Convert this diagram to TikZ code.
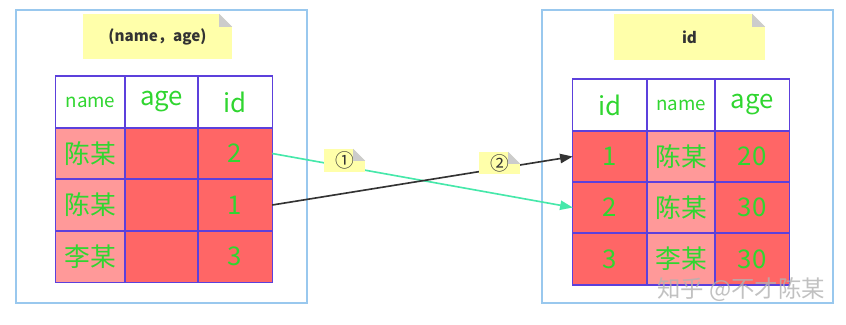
\documentclass[tikz,border=0pt]{standalone}
\usepackage{fontspec}
\setmainfont{Noto Sans CJK SC}
\usetikzlibrary{arrows.meta,calc}
\definecolor{CellRed}{RGB}{255,102,102}
\definecolor{CellPink}{RGB}{255,153,153}
\definecolor{CellGreen}{RGB}{48,214,48}
\definecolor{GridPurple}{RGB}{92,64,220}
\definecolor{FrameBlue}{RGB}{153,200,238}
\definecolor{NoteYellow}{RGB}{255,255,170}
\definecolor{FoldGray}{RGB}{204,204,204}
\definecolor{LinkGreen}{RGB}{70,232,170}
\colorlet{LinkDark}{black!80}
\colorlet{NoteText}{black!80}

% folded corner of a note node: #1 node name, #2 fold size
\newcommand\notefold[2]{%
  \fill[white] ($(#1.north east)+(-#2,0)$) -- (#1.north east) -- ($(#1.north east)+(0,#2)$) -- cycle;
  \fill[FoldGray] ($(#1.north east)+(-#2,0)$) -- ($(#1.north east)+(0,#2)$) -- ($(#1.north east)+(-#2,#2)$) -- cycle;}

\begin{document}
\begin{tikzpicture}[x=0.3mm,y=-0.3mm,
    groupbox/.style={draw=FrameBlue,line width=1.3pt,minimum width=87.3mm,minimum height=87.9mm},
    notebox/.style={fill=NoteYellow,inner sep=0pt,font=\bfseries\fontsize{13}{14}\selectfont,text=NoteText},
    cell/.style={inner sep=0pt,minimum height=15.45mm,
      text=CellGreen,font=\fontsize{22}{23}\selectfont},
    head/.style={cell,fill=white},
    redcell/.style={cell,fill=CellRed},
    pinkcell/.style={cell,fill=CellPink},
    gridline/.style={draw=GridPurple,line width=1.2pt},
    link/.style={line width=1.4pt,-{Triangle[length=3.8mm,width=2.8mm]}}
  ]
    \useasboundingbox (0,0) rectangle (846,324);

    % two index trees
    \node[groupbox] (leftgroup) at (161.5,156.5) {};
    \node[groupbox] (rightgroup) at (687.5,156.5) {};

    \node[notebox,minimum width=44.7mm,minimum height=13.5mm] (leftnote) at (157.5,36.5) {(name，age)};
    \notefold{leftnote}{13}
    \node[notebox,minimum width=45.3mm,minimum height=13.8mm] (rightnote) at (689.5,37) {id};
    \notefold{rightnote}{13}

    % secondary index (name, age)
    \node[head,minimum width=20.7mm,font=\fontsize{16}{17}\selectfont] (L-name) at (90.5,102) {name};
    \node[head,minimum width=21.9mm] (L-age) at (161.5,102) {age};
    \node[head,minimum width=22.2mm] (L-id) at (235,102) {id};

    \node[pinkcell,minimum width=20.7mm] (L-name1) at (90.5,153.5) {陈某};
    \node[redcell,minimum width=21.9mm] (L-age1) at (161.5,153.5) {};
    \node[redcell,minimum width=22.2mm] (L-id1) at (235,153.5) {2};

    \node[pinkcell,minimum width=20.7mm] (L-name2) at (90.5,205) {陈某};
    \node[redcell,minimum width=21.9mm] (L-age2) at (161.5,205) {};
    \node[redcell,minimum width=22.2mm] (L-id2) at (235,205) {1};

    \node[pinkcell,minimum width=20.7mm] (L-name3) at (90.5,256.5) {李某};
    \node[redcell,minimum width=21.9mm] (L-age3) at (161.5,256.5) {};
    \node[redcell,minimum width=22.2mm] (L-id3) at (235,256.5) {3};

    % primary index id
    \node[head,minimum width=22.2mm] (R-id) at (610,105) {id};
    \node[head,minimum width=20.4mm,font=\fontsize{16}{17}\selectfont] (R-name) at (681,105) {name};
    \node[head,minimum width=22.2mm] (R-age) at (752,105) {age};

    \node[redcell,minimum width=22.2mm] (R-id1) at (610,156.5) {1};
    \node[pinkcell,minimum width=20.4mm] (R-name1) at (681,156.5) {陈某};
    \node[redcell,minimum width=22.2mm] (R-age1) at (752,156.5) {20};

    \node[redcell,minimum width=22.2mm] (R-id2) at (610,207.5) {2};
    \node[pinkcell,minimum width=20.4mm] (R-name2) at (681,207.5) {陈某};
    \node[redcell,minimum width=22.2mm] (R-age2) at (752,207.5) {30};

    \node[redcell,minimum width=22.2mm] (R-id3) at (610,259) {3};
    \node[pinkcell,minimum width=20.4mm] (R-name3) at (681,259) {李某};
    \node[redcell,minimum width=22.2mm] (R-age3) at (752,259) {30};

    % cell borders on top of the fills
    \foreach \t in {L,R}
      \foreach \c in {name,age,id}
        \foreach \r in {,1,2,3}
          \draw[gridline] (\t-\c\r.north west) rectangle (\t-\c\r.south east);

    % lookups back to the table
    \draw[link,LinkGreen] (L-id1.east) -- (R-id2.west);
    \draw[link,LinkDark] (L-id2.east) -- (R-id1.west);

    \node[notebox,font=\fontsize{16}{17}\selectfont,minimum width=12.3mm,minimum height=6.9mm] (step1) at (344.5,160.5) {①};
    \notefold{step1}{12}
    \node[notebox,font=\fontsize{16}{17}\selectfont,minimum width=12.3mm,minimum height=6.6mm] (step2) at (499.5,163) {②};
    \notefold{step2}{12}

    \node[text=black!30,opacity=0.8,font=\fontsize{20}{21}\selectfont] (mark) at (741,290) {知乎 @不才陈某};
  \end{tikzpicture}
\end{document}
